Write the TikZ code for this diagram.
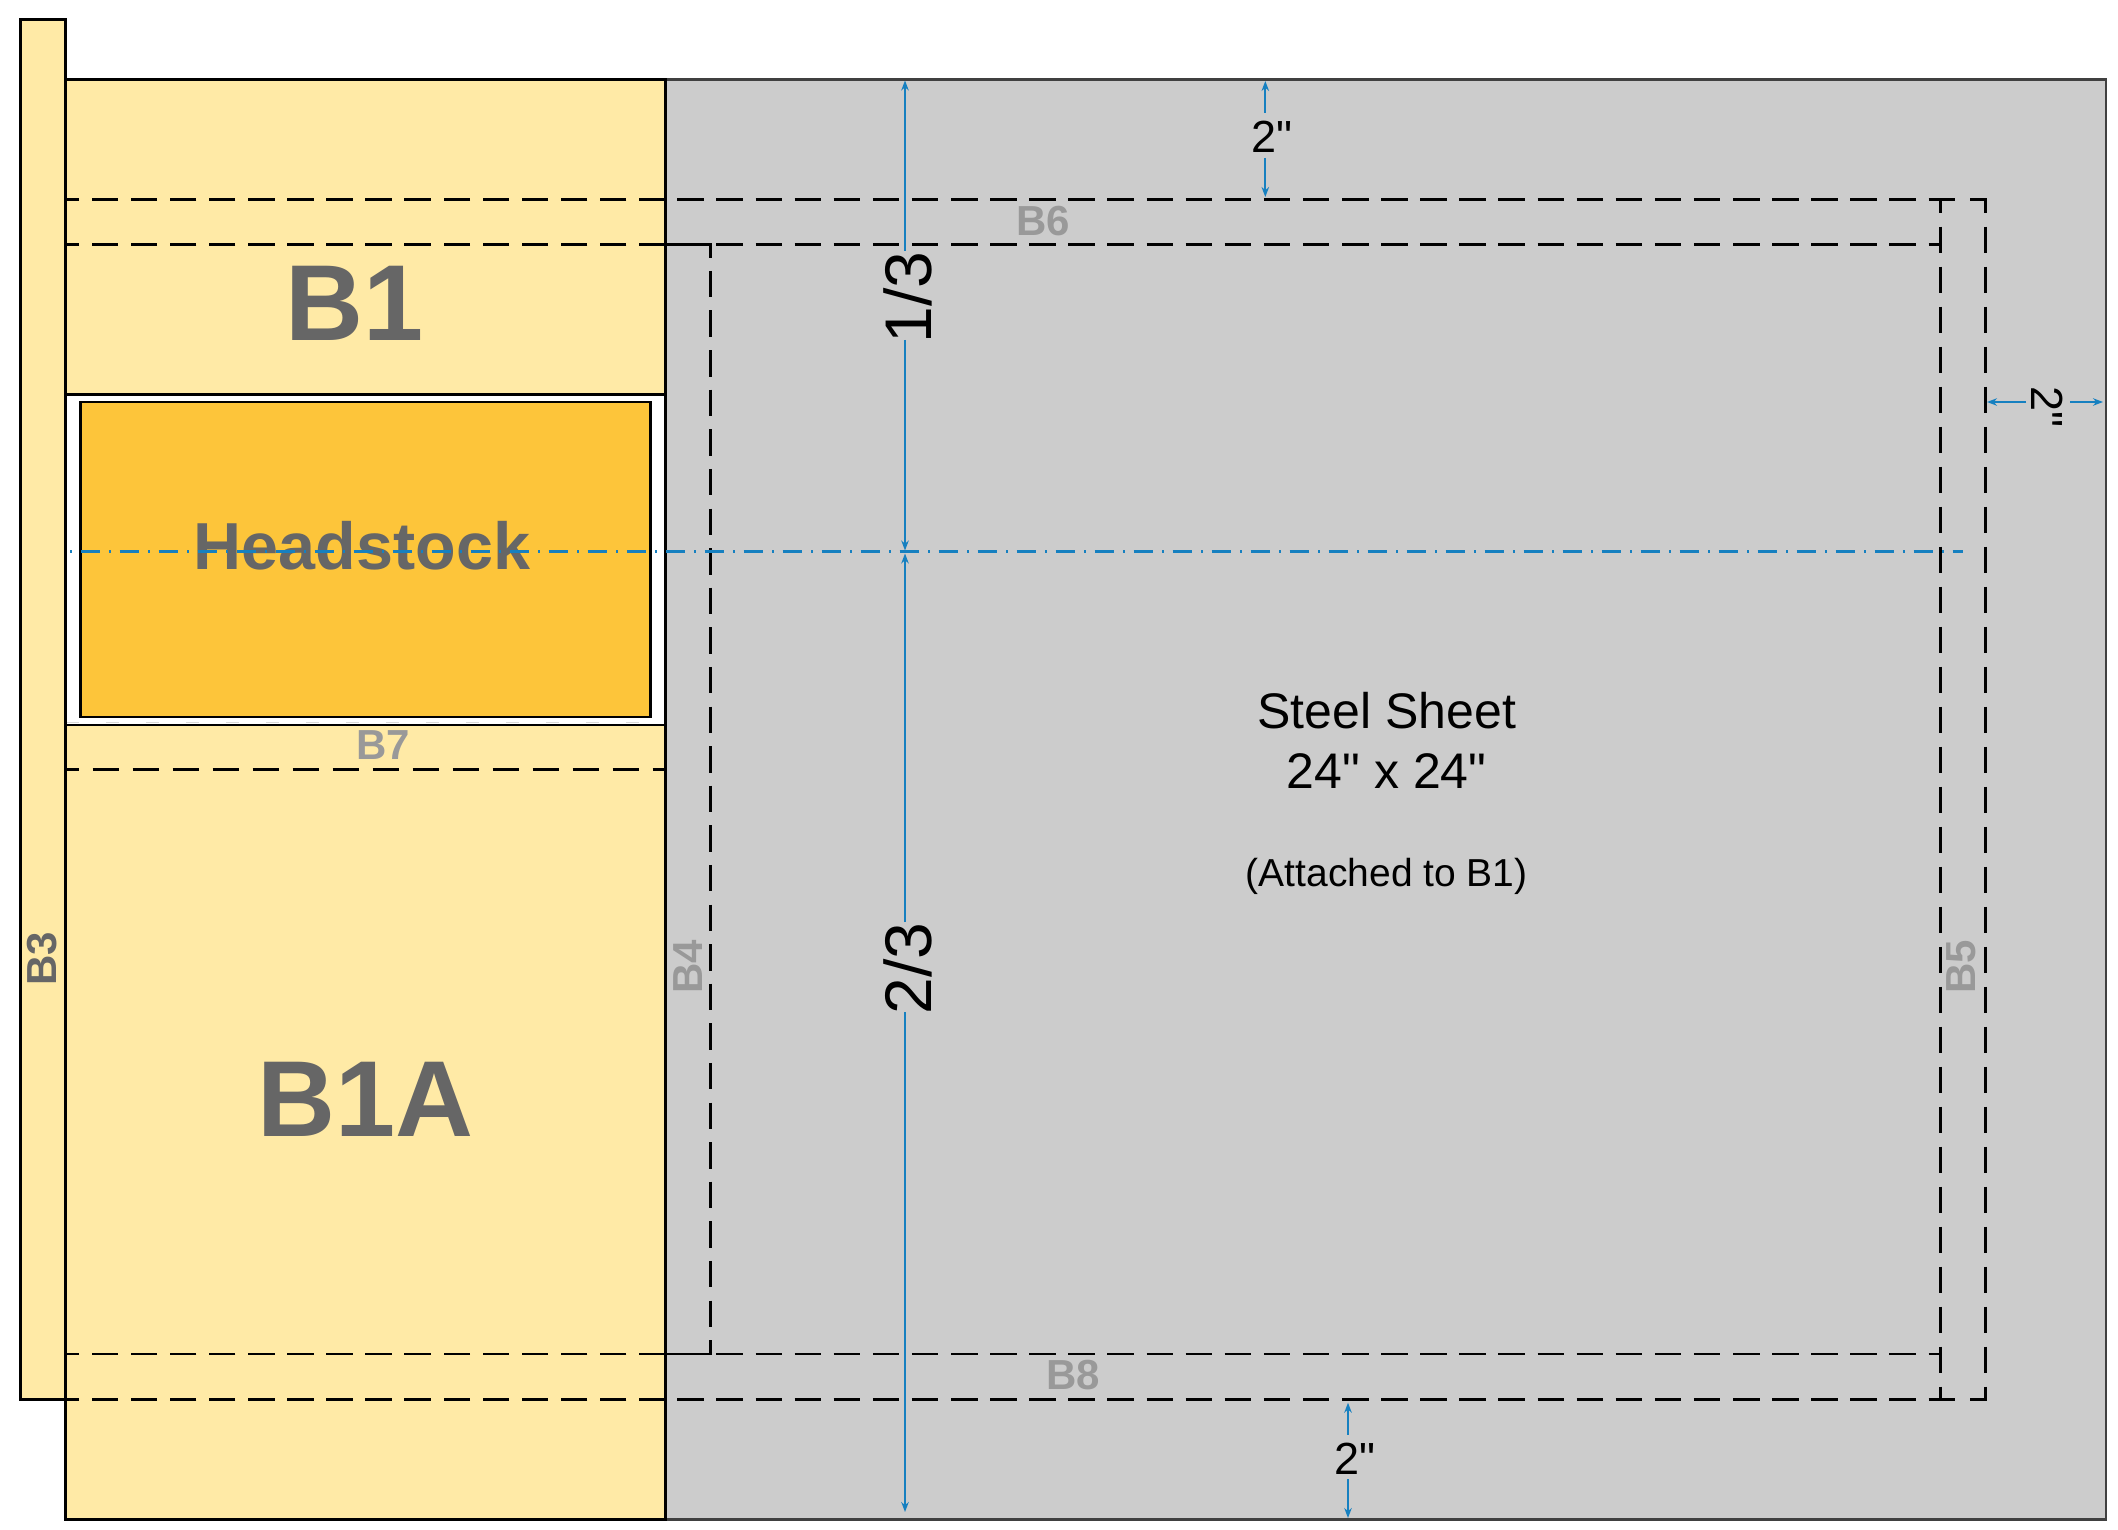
\documentclass[tikz,border=0pt]{standalone}
\usepackage{fontspec}
\setmainfont{Liberation Sans}[Ligatures=TeXOff]
\usetikzlibrary{arrows.meta}
\newcommand\fsz[1]{\fontsize{#1}{#1}\selectfont}
\definecolor{yel}{HTML}{FFEAA6}
\definecolor{org}{HTML}{FDC53A}
\definecolor{sht}{HTML}{CCCCCC}
\definecolor{blu}{HTML}{1680C0}
\definecolor{dgr}{HTML}{666666}
\definecolor{lgr}{HTML}{999999}
\tikzset{
  part/.style={draw=black,line width=2.6pt},
  hdash/.style={draw=black,line width=2.7pt,dash pattern=on 26.5pt off 12.6pt},
  vdash/.style={draw=black,line width=2.6pt,dash pattern=on 26.7pt off 13.3pt},
  solidpiece/.style={draw=black,line width=2.6pt},
  centre/.style={draw=blu,line width=2.6pt,dash pattern=on 19pt off 9.5pt on 2pt off 8.5pt},
  dimline/.style={draw=blu,line width=2.2pt,-{Stealth[length=10pt,width=7.5pt]}},
  big/.style={inner sep=0pt,anchor=base,text=dgr,font=\fsz{108}\bfseries},
  tag/.style={inner sep=0pt,text=lgr,font=\fsz{42}\bfseries},
  note/.style={inner sep=0pt,anchor=base,text=black},
  dimtext/.style={inner sep=0pt,text=black}
}
\begin{document}
\begin{tikzpicture}[x=1pt,y=-1pt]
\useasboundingbox (0,0) rectangle (2118,1530);
\fill[white] (0,0) rectangle (2118,1530);
% sheet and beams
\draw[fill=sht,draw=black!75,line width=2.4pt] (665.5,79.5) rectangle (2106,1519.5);
\draw[part,fill=yel] (65.5,79.5) rectangle (665.5,394.5);
\draw[part,fill=yel] (65.5,725) rectangle (665.5,1519.5);
\draw[part,fill=white] (65.5,394.5) rectangle (665.5,725);
\draw[draw=black!15,line width=1pt,dash pattern=on 13pt off 27pt] (66,722.5) -- (665,722.5);
\draw[part,fill=org] (80.5,402) rectangle (650.5,717);
\draw[part,fill=yel] (20.5,19.5) rectangle (65.5,1399.5);
% hidden edges, left part
\draw[hdash] (665.5,199.5) -- (65.5,199.5);
\draw[hdash] (665.5,244.5) -- (65.5,244.5);
\draw[hdash] (665.5,1354) -- (65.5,1354);
\draw[hdash] (665.5,1399.5) -- (65.5,1399.5);
\draw[vdash,dash phase=13] (65.5,769.3) -- (665.5,769.3);
% hidden edges, sheet
\draw[hdash] (677.3,199.5) -- (1955.3,199.5);
\draw[solidpiece] (1970.3,199.5) -- (1986.5,199.5);
\draw[hdash] (716.4,244.5) -- (1940.3,244.5);
\draw[solidpiece] (664.5,244.5) -- (711.5,244.5);
\draw[hdash] (716.4,1354) -- (1940.3,1354);
\draw[solidpiece] (664.5,1354) -- (711.5,1354);
\draw[hdash] (677.3,1399.5) -- (1955.3,1399.5);
\draw[solidpiece] (1970.3,1399.5) -- (1986.5,1399.5);
\draw[draw=black,line width=2.6pt,dash pattern=on 26.5pt off 13.1pt,dash phase=13.2] (710.3,244.5) -- (710.3,1354);
\draw[draw=black,line width=2.6pt,dash pattern=on 26.5pt off 13.1pt,dash phase=13.2] (665.5,244.5) -- (665.5,725);
\draw[vdash,dash phase=12.8] (1940.3,199.5) -- (1940.3,1399.5);
\draw[vdash,dash phase=12.8] (1985.3,199.5) -- (1985.3,1399.5);
% labels
\node[big] (b1) at (355,341) {B1};
\node[big] (b1a) at (365.6,1136) {B1A};
\node[inner sep=0pt,anchor=base,text=dgr,font=\fsz{66.5}\bfseries] (hs) at (362,569.3) {Headstock};
\node[inner sep=0pt,text=dgr,font=\fsz{42}\bfseries,rotate=90] (b3) at (42,959) {B3};
\node[tag] (b6) at (1043,221) {B6};
\node[tag] (b7) at (383,745.5) {B7};
\node[tag] (b8) at (1073.3,1375.5) {B8};
\node[tag,rotate=90] (b4) at (687.6,967) {B4};
\node[tag,rotate=90] (b5) at (1961.5,967) {B5};
\node[note,font=\fsz{50}] (s1) at (1386.7,728) {Steel Sheet};
\node[note,font=\fsz{50}] (s2) at (1386.7,788) {24" x 24"};
\node[note,font=\fsz{39}] (s3) at (1386.7,886) {(Attached to B1)};
\node[dimtext,font=\fsz{66},rotate=90] (third) at (908,297.5) {1/3};
\node[dimtext,font=\fsz{66},rotate=90] (twothird) at (908,968.5) {2/3};
\node[dimtext,font=\fsz{45}] (top2) at (1271.7,136.3) {2"};
\node[dimtext,font=\fsz{45}] (bot2) at (1354.7,1458.3) {2"};
\node[dimtext,font=\fsz{45},rotate=-90] (right2) at (2047,407) {2"};
% centre line
\coordinate (cl) at (70,551.7);
\coordinate (cr) at (1962.7,551.7);
\draw[centre,dash phase=28.5] (cl) -- (cr);
% dimensions
\coordinate (a1) at (905,251);
\coordinate (a2) at (905,80.5);
\coordinate (a3) at (905,340);
\coordinate (a4) at (905,550.5);
\coordinate (a5) at (905,922);
\coordinate (a6) at (905,553.5);
\coordinate (a7) at (905,1012);
\coordinate (a8) at (905,1512);
\draw[dimline] (a1) -- (a2);
\draw[dimline] (a3) -- (a4);
\draw[dimline] (a5) -- (a6);
\draw[dimline] (a7) -- (a8);
\coordinate (t1) at (1265.3,112.7);
\coordinate (t2) at (1265.3,81);
\coordinate (t3) at (1265.3,158);
\coordinate (t4) at (1265.3,197);
\draw[dimline] (t1) -- (t2);
\draw[dimline] (t3) -- (t4);
\coordinate (u1) at (1348,1434.7);
\coordinate (u2) at (1348,1402.7);
\coordinate (u3) at (1348,1479.3);
\coordinate (u4) at (1348,1518);
\draw[dimline] (u1) -- (u2);
\draw[dimline] (u3) -- (u4);
\coordinate (r1) at (2026,402);
\coordinate (r2) at (1987,402);
\coordinate (r3) at (2070,402);
\coordinate (r4) at (2103,402);
\draw[dimline] (r1) -- (r2);
\draw[dimline] (r3) -- (r4);
\end{tikzpicture}
\end{document}
